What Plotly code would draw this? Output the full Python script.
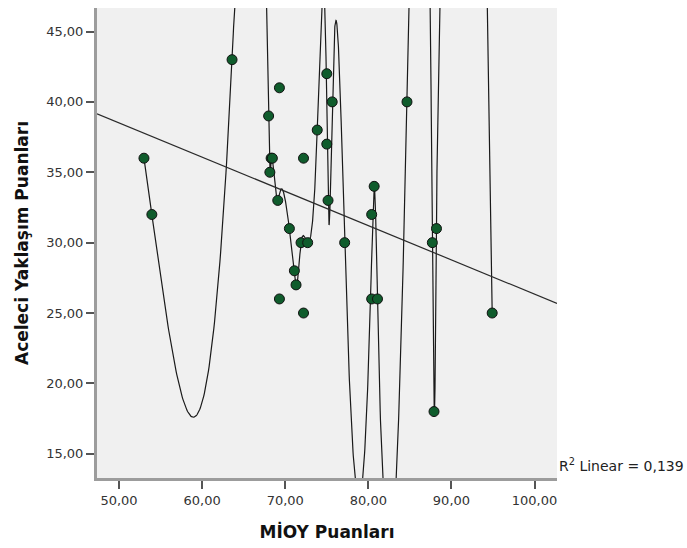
import numpy as np
import plotly.graph_objects as go

# ---- data ----
miOY = [53.0, 53.95, 63.6, 68.0, 68.15, 68.3, 68.45, 69.1, 69.3, 69.3,
        70.5, 71.1, 71.3, 71.9, 72.2, 72.2, 72.7, 73.85, 75.0, 75.0,
        75.15, 75.65, 77.15, 80.4, 80.4, 80.7, 81.1, 84.65, 87.7, 87.9,
        88.2, 94.9]
aceleci = [36, 32, 43, 39, 35, 36, 36, 33, 41, 26,
           31, 28, 27, 30, 36, 25, 30, 38, 42, 37,
           33, 40, 30, 32, 26, 34, 26, 40, 30, 18,
           31, 25]

fit_intercept = 50.68
fit_slope = -0.2434
r2_text = "R<sup>2</sup> Linear = 0,139"

x_range = [47.35, 102.7]
y_range = [13.28, 46.67]
x_ticks = [50, 60, 70, 80, 90, 100]
y_ticks = [15, 20, 25, 30, 35, 40, 45]

x_title = "MİOY Puanları"
y_title = "Aceleci Yaklaşım Puanları"

# ---- interpolation line: natural cubic spline through mean y of each x ----
xa = np.array(miOY, dtype=float)
ya = np.array(aceleci, dtype=float)
ux = np.unique(xa)
uy = np.array([ya[xa == v].mean() for v in ux])
n = len(ux)
h = np.diff(ux)
A = np.zeros((n, n))
b = np.zeros(n)
A[0, 0] = 1.0
A[-1, -1] = 1.0
for i in range(1, n - 1):
    A[i, i - 1] = h[i - 1]
    A[i, i] = 2 * (h[i - 1] + h[i])
    A[i, i + 1] = h[i]
    b[i] = 6 * ((uy[i + 1] - uy[i]) / h[i] - (uy[i] - uy[i - 1]) / h[i - 1])
M = np.linalg.solve(A, b)
sx, sy = [], []
for i in range(n - 1):
    xs = np.linspace(ux[i], ux[i + 1], 120)
    hi = h[i]
    s = (M[i] * (ux[i + 1] - xs) ** 3 / (6 * hi) + M[i + 1] * (xs - ux[i]) ** 3 / (6 * hi)
         + (uy[i] / hi - M[i] * hi / 6) * (ux[i + 1] - xs)
         + (uy[i + 1] / hi - M[i + 1] * hi / 6) * (xs - ux[i]))
    sx.extend(xs.tolist())
    sy.extend(np.clip(s, -200, 300).tolist())

fx = np.array(x_range)
fy = fit_intercept + fit_slope * fx

fig = go.Figure()
fig.add_trace(go.Scatter(x=sx, y=sy, mode="lines",
                         line=dict(color="#1a1a1a", width=1.2), hoverinfo="skip"))
fig.add_trace(go.Scatter(x=fx, y=fy, mode="lines",
                         line=dict(color="#2a2a2a", width=1.2), hoverinfo="skip"))
fig.add_trace(go.Scatter(x=miOY, y=aceleci, mode="markers",
                         marker=dict(size=10, color="#0f5c2c",
                                     line=dict(color="#111111", width=1))))

fig.update_layout(
    width=687, height=548,
    margin=dict(l=97, r=130, t=8, b=70),
    paper_bgcolor="white", plot_bgcolor="#f0f0f0",
    showlegend=False,
    separators=",.",
    font=dict(family="DejaVu Sans", size=13, color="#333333"),
)
fig.update_xaxes(range=x_range, tickvals=x_ticks, tickformat=".2f",
                 showgrid=False, zeroline=False,
                 showline=True, linecolor="#9c9c9c", linewidth=3,
                 ticks="outside", ticklen=8, tickwidth=1.5, tickcolor="#555555",
                 title=dict(text=x_title, font=dict(size=17, color="#111111",
                                                    family="DejaVu Sans", weight="bold"),
                            standoff=20))
fig.update_yaxes(range=y_range, tickvals=y_ticks, tickformat=".2f",
                 showgrid=False, zeroline=False,
                 showline=True, linecolor="#9c9c9c", linewidth=3,
                 ticks="outside", ticklen=8, tickwidth=1.5, tickcolor="#555555",
                 title=dict(text=y_title, font=dict(size=17, color="#111111",
                                                    family="DejaVu Sans", weight="bold"),
                            standoff=14))
fig.add_annotation(xref="paper", yref="paper", x=1.0, y=0.0, xanchor="left",
                   yanchor="bottom", yshift=2, xshift=0, showarrow=False,
                   text=r2_text, font=dict(size=14, color="#222222",
                                          family="DejaVu Sans"))

fig.write_html("out.html")
